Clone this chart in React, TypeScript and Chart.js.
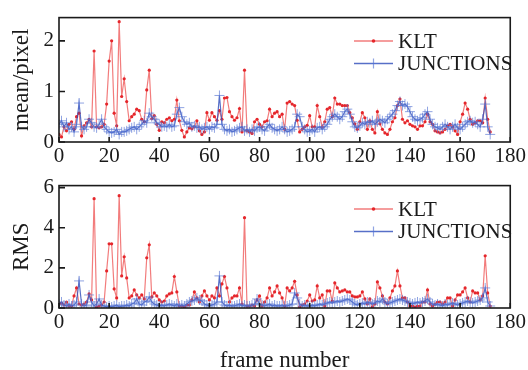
import React, { useEffect, useRef } from 'react';
import { Chart, registerables } from 'chart.js';
Chart.register(...registerables);

const seriesNames = ['KLT', 'JUNCTIONS'];
const frameTicks = [0, 20, 40, 60, 80, 100, 120, 140, 160, 180];
const meanTicks = [0, 1, 2];
const rmsTicks = [0, 2, 4, 6];

const kltMean = [
  0.15, 0.1, 0.3, 0.22, 0.35, 0.4, 0.25, 0.5, 0.57, 0.12, 0.32, 0.38, 0.45, 0.3, 1.8, 0.3, 0.28, 0.3, 0.35, 0.75,
  1.6, 2.0, 0.57, 0.32, 2.38, 0.9, 1.25, 0.8, 0.42, 0.5, 0.55, 0.65, 0.62, 0.45, 0.4, 1.03, 1.42, 0.46, 0.52, 0.35,
  0.23, 0.4, 0.38, 0.45, 0.48, 0.42, 0.45, 0.83, 0.42, 0.23, 0.1, 0.2, 0.28, 0.26, 0.3, 0.42, 0.22, 0.15, 0.2, 0.58,
  0.43, 0.58, 0.5, 0.43, 0.62, 0.45, 0.87, 0.88, 0.6, 0.5, 0.43, 0.48, 0.66, 0.2, 1.42, 0.22, 0.2, 0.17, 0.4, 0.45,
  0.35, 0.3, 0.4, 0.42, 0.65, 0.5, 0.57, 0.6, 0.5, 0.55, 0.25, 0.77, 0.8, 0.75, 0.72, 0.43, 0.2, 0.25, 0.3, 0.33,
  0.52, 0.3, 0.3, 0.72, 0.5, 0.3, 0.4, 0.65, 0.68, 0.5, 0.87, 0.75, 0.75, 0.72, 0.72, 0.72, 0.58, 0.48, 0.36, 0.25,
  0.4, 0.58, 0.48, 0.25, 0.42, 0.25, 0.18, 0.6, 0.36, 0.25, 0.18, 0.15, 0.25, 0.4, 0.48, 0.72, 0.85, 0.45, 0.38, 0.42,
  0.35, 0.32, 0.3, 0.25, 0.32, 0.32, 0.4, 0.55, 0.4, 0.35, 0.22, 0.2, 0.18, 0.2, 0.25, 0.32, 0.35, 0.3, 0.22, 0.15,
  0.4, 0.55, 0.77, 0.65, 0.45, 0.35, 0.38, 0.42, 0.42, 0.38, 0.87, 0.45, 0.2,
];

const junctionsMean = [
  0.35, 0.42, 0.3, 0.38, 0.25, 0.3, 0.2, 0.35, 0.77, 0.3, 0.25, 0.3, 0.45, 0.38, 0.3, 0.28, 0.35, 0.45, 0.3, 0.25,
  0.2, 0.18, 0.2, 0.25, 0.15, 0.2, 0.2, 0.22, 0.25, 0.28, 0.3, 0.25, 0.3, 0.35, 0.42, 0.38, 0.57, 0.5, 0.45, 0.38,
  0.35, 0.3, 0.32, 0.3, 0.35, 0.3, 0.32, 0.55, 0.68, 0.5, 0.4, 0.35, 0.38, 0.3, 0.32, 0.28, 0.3, 0.25, 0.28, 0.3,
  0.25, 0.3, 0.28, 0.35, 0.92, 0.35, 0.25, 0.22, 0.25, 0.2, 0.22, 0.25, 0.28, 0.3, 0.22, 0.25, 0.2, 0.25, 0.22, 0.28,
  0.3, 0.25, 0.22, 0.3, 0.35, 0.28, 0.25, 0.22, 0.25, 0.3, 0.25, 0.2, 0.22, 0.25, 0.3, 0.55, 0.5, 0.3, 0.25, 0.2,
  0.22, 0.25, 0.2, 0.28, 0.3, 0.25, 0.3, 0.35, 0.45, 0.5, 0.55, 0.5, 0.45, 0.5, 0.6, 0.65, 0.55, 0.4, 0.3, 0.28,
  0.32, 0.38, 0.35, 0.4, 0.38, 0.42, 0.35, 0.4, 0.45, 0.42, 0.38, 0.45, 0.5, 0.55, 0.62, 0.72, 0.8, 0.72, 0.75, 0.7,
  0.6, 0.5, 0.45, 0.42, 0.45, 0.48, 0.55, 0.6, 0.45, 0.35, 0.3, 0.28, 0.25, 0.3, 0.35, 0.3, 0.25, 0.3, 0.35, 0.28,
  0.25, 0.3, 0.35, 0.4, 0.42, 0.38, 0.4, 0.35, 0.3, 0.45, 0.75, 0.3, 0.15,
];

const kltRms = [
  0.2, 0.24, 0.15, 0.3, 0.1, 0.1, 0.6, 1.0, 0.2, 0.15, 0.2, 0.3, 0.7, 0.4, 5.45, 0.05, 0.1, 0.15, 0.3, 1.85,
  3.2, 3.2, 0.95, 0.5, 5.6, 1.6, 2.55, 1.5, 0.5, 0.6, 0.9, 0.65, 0.5, 0.65, 0.45, 2.5, 3.15, 0.55, 0.75, 0.6,
  0.4, 0.3, 0.35, 0.6, 0.7, 0.75, 1.57, 0.8, 0.1, 0.1, 0.05, 0.15, 0.15, 0.4, 0.8, 0.5, 0.3, 0.6, 0.85, 0.6,
  0.4, 0.6, 0.5, 1.0, 0.6, 1.2, 1.57, 1.0, 0.3, 0.5, 0.6, 0.6, 1.0, 0.2, 4.5, 0.1, 0.1, 0.15, 0.1, 0.4,
  0.6, 0.1, 0.3, 0.5, 1.0, 0.6, 0.8, 1.1, 0.75, 0.5, 0.1, 1.0, 0.85, 1.0, 1.33, 0.65, 0.05, 0.15, 0.2, 0.35,
  0.65, 0.35, 0.4, 1.1, 0.5, 0.65, 0.1, 0.85, 0.85, 0.35, 1.25, 1.0, 0.8, 0.85, 0.9, 0.8, 0.8, 0.6, 0.55, 0.55,
  0.6, 0.8, 0.45, 0.2, 0.45, 0.05, 0.2, 1.3, 1.0, 0.6, 0.3, 0.2, 0.5, 0.85, 1.1, 1.85, 1.1, 0.5, 0.5, 0.3,
  0.1, 0.1, 0.05, 0.1, 0.1, 0.3, 0.3, 0.9, 0.2, 0.1, 0.2, 0.3, 0.3, 0.2, 0.3, 0.5, 0.5, 0.1, 0.4, 0.65,
  0.65, 0.8, 1.0, 0.5, 0.3, 0.85, 0.75, 0.75, 0.4, 0.6, 2.6, 0.75, 0.1,
];

const junctionsRms = [
  0.2, 0.3, 0.15, 0.1, 0.2, 0.1, 0.15, 0.3, 1.35, 0.2, 0.1, 0.15, 0.65, 0.3, 0.1, 0.2, 0.45, 0.15, 0.1, 0.05,
  0.1, 0.05, 0.1, 0.15, 0.05, 0.1, 0.1, 0.15, 0.1, 0.2, 0.25, 0.45, 0.2, 0.15, 0.3, 0.35, 0.55, 0.3, 0.2, 0.15,
  0.1, 0.15, 0.1, 0.15, 0.2, 0.15, 0.1, 0.2, 0.1, 0.15, 0.1, 0.2, 0.3, 0.35, 0.4, 0.5, 0.4, 0.35, 0.2, 0.15,
  0.1, 0.15, 0.2, 0.3, 1.6, 0.3, 0.15, 0.1, 0.15, 0.1, 0.1, 0.15, 0.2, 0.1, 0.15, 0.1, 0.1, 0.15, 0.2, 0.45,
  0.2, 0.15, 0.1, 0.15, 0.2, 0.1, 0.15, 0.1, 0.1, 0.15, 0.1, 0.1, 0.15, 0.2, 0.75, 0.5, 0.2, 0.1, 0.15, 0.1,
  0.1, 0.15, 0.1, 0.15, 0.2, 0.15, 0.2, 0.25, 0.3, 0.25, 0.3, 0.35, 0.3, 0.35, 0.4, 0.45, 0.4, 0.3, 0.2, 0.15,
  0.2, 0.25, 0.2, 0.3, 0.25, 0.2, 0.25, 0.35, 0.3, 0.45, 0.3, 0.2, 0.25, 0.3, 0.35, 0.4, 0.45, 0.4, 0.35, 0.3,
  0.25, 0.2, 0.25, 0.3, 0.25, 0.3, 0.35, 0.45, 0.3, 0.2, 0.15, 0.2, 0.15, 0.1, 0.2, 0.15, 0.2, 0.25, 0.2, 0.15,
  0.2, 0.25, 0.3, 0.35, 0.3, 0.25, 0.3, 0.35, 0.4, 0.5, 1.0, 0.3, 0.1,
];

const frames = kltMean.map((_, i) => i);

const FONT = "'Liberation Serif', 'Times New Roman', Times, serif";
const INK = '#1a1a1a';
const RED_LINE = 'rgba(238,80,80,0.75)';
const RED_DOT = '#e5262b';
const BLUE_LINE = 'rgba(45,75,185,0.8)';
const BLUE_MARK = 'rgba(85,115,210,0.65)';

const framePlugin = {
  id: 'matlabFrame',
  afterDraw(chart: any) {
    const { ctx, chartArea: a, scales } = chart;
    ctx.save();
    ctx.strokeStyle = INK;
    ctx.lineWidth = 1.6;
    ctx.strokeRect(a.left, a.top, a.right - a.left, a.bottom - a.top);
    ctx.lineWidth = 1.6;
    ctx.beginPath();
    scales.x.ticks.forEach((t: any) => {
      const px = scales.x.getPixelForValue(t.value);
      ctx.moveTo(px, a.bottom);
      ctx.lineTo(px, a.bottom - 5);
    });
    scales.y.ticks.forEach((t: any) => {
      const py = scales.y.getPixelForValue(t.value);
      ctx.moveTo(a.left, py);
      ctx.lineTo(a.left + 6, py);
    });
    ctx.stroke();
    ctx.restore();
  },
};

const legendPlugin = {
  id: 'inlineLegend',
  afterDraw(chart: any) {
    const ctx = chart.ctx;
    const rows = [41, 63.5];
    const x1 = 354;
    const x2 = 393;
    const xm = (x1 + x2) / 2;
    chart.data.datasets.forEach((ds: any, i: number) => {
      const y = rows[i];
      ctx.save();
      ctx.strokeStyle = ds.borderColor;
      ctx.lineWidth = 1.5;
      ctx.beginPath();
      ctx.moveTo(x1, y);
      ctx.lineTo(x2, y);
      ctx.stroke();
      if (ds.pointStyle === 'cross') {
        ctx.strokeStyle = ds.pointBorderColor;
        ctx.lineWidth = 1.2;
        ctx.beginPath();
        ctx.moveTo(xm, y - 5);
        ctx.lineTo(xm, y + 5);
        ctx.moveTo(xm - 5, y);
        ctx.lineTo(xm + 5, y);
        ctx.stroke();
      } else {
        ctx.fillStyle = ds.pointBackgroundColor;
        ctx.beginPath();
        ctx.arc(xm, y, 1.8, 0, Math.PI * 2);
        ctx.fill();
      }
      ctx.fillStyle = INK;
      ctx.font = `21px ${FONT}`;
      ctx.textBaseline = 'middle';
      ctx.fillText(ds.label, 398, y + 1);
      ctx.restore();
    });
  },
};

function makeConfig(klt: number[], jun: number[], yMax: number, yTicks: number[], yTitle: string, bottom: boolean): any {
  return {
    type: 'line',
    data: {
      datasets: [
        {
          label: seriesNames[0],
          data: frames.map((f, i) => ({ x: f, y: klt[i] })),
          borderColor: RED_LINE,
          borderWidth: 1.2,
          pointRadius: 1.6,
          pointBackgroundColor: RED_DOT,
          pointBorderWidth: 0,
          pointStyle: 'circle',
          order: 1,
        },
        {
          label: seriesNames[1],
          data: frames.map((f, i) => ({ x: f, y: jun[i] })),
          borderColor: BLUE_LINE,
          borderWidth: 1.2,
          pointRadius: 5,
          pointStyle: 'cross',
          pointBorderColor: BLUE_MARK,
          pointBorderWidth: 1,
          order: 0,
        },
      ],
    },
    options: {
      responsive: false,
      animation: false,
      devicePixelRatio: 1,
      layout: { padding: { left: 0, right: 17, top: bottom ? 12 : 14, bottom: 0 } },
      plugins: { legend: { display: false }, tooltip: { enabled: false } },
      scales: {
        x: {
          type: 'linear',
          min: 0,
          max: 180,
          grid: { display: false, drawTicks: false },
          border: { display: false },
          afterBuildTicks: (s: any) => {
            s.ticks = frameTicks.map((v) => ({ value: v }));
          },
          afterFit: (s: any) => {
            s.height = bottom ? 62 : 26;
          },
          ticks: { font: { family: FONT, size: 21 }, color: INK, padding: 2, maxRotation: 0, autoSkip: false },
          title: {
            display: bottom,
            text: 'frame number',
            color: INK,
            font: { family: FONT, size: 23, lineHeight: 0.8 },
            padding: { top: 0, bottom: 0 },
          },
        },
        y: {
          min: 0,
          max: yMax,
          grid: { display: false, drawTicks: false },
          border: { display: false },
          afterBuildTicks: (s: any) => {
            s.ticks = yTicks.map((v) => ({ value: v }));
          },
          afterFit: (s: any) => {
            s.width = 59;
          },
          ticks: { font: { family: FONT, size: 21 }, color: INK, padding: 5 },
          title: {
            display: true,
            text: yTitle,
            color: INK,
            font: { family: FONT, size: 23, lineHeight: 1.2 },
            padding: { top: 8, bottom: 0 },
          },
        },
      },
    },
    plugins: [framePlugin, legendPlugin],
  };
}

export default function App() {
  const topRef = useRef<HTMLCanvasElement>(null);
  const botRef = useRef<HTMLCanvasElement>(null);
  useEffect(() => {
    const c1 = new Chart(topRef.current as HTMLCanvasElement, makeConfig(kltMean, junctionsMean, 2.46, meanTicks, 'mean/pixel', false));
    const c2 = new Chart(botRef.current as HTMLCanvasElement, makeConfig(kltRms, junctionsRms, 6.1, rmsTicks, 'RMS', true));
    return () => {
      c1.destroy();
      c2.destroy();
    };
  }, []);
  return (
    <div style={{ position: 'fixed', left: 0, top: 0, width: 528, height: 370, background: '#fff' }}>
      <canvas ref={topRef} width={528} height={168} style={{ display: 'block', position: 'absolute', left: 0, top: 0 }} />
      <canvas ref={botRef} width={528} height={202} style={{ display: 'block', position: 'absolute', left: 0, top: 168 }} />
    </div>
  );
}
